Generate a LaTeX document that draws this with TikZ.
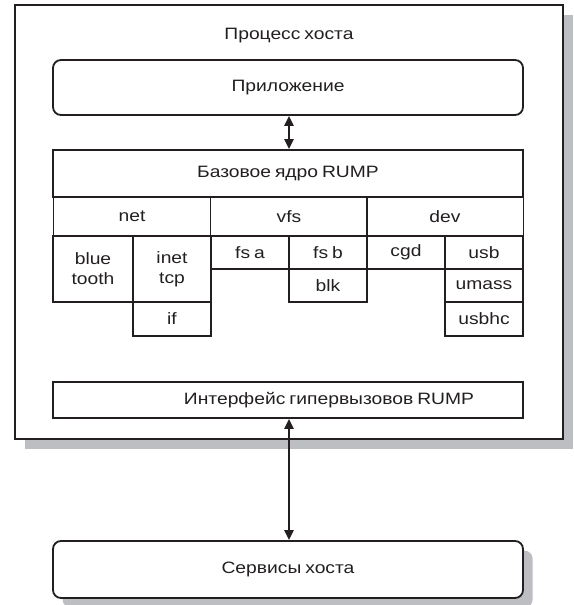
\documentclass[tikz,border=0pt]{standalone}
\usepackage{fontspec}
\setmainfont{Liberation Sans}[FakeStretch=1.17,WordSpace=0.75]
\usepackage{xcolor}
\usetikzlibrary{arrows.meta,shadows}
\definecolor{ink}{RGB}{35,31,32}
\definecolor{shade}{RGB}{189,190,194}

\begin{document}
\begin{tikzpicture}[
  x=0.025cm, y=-0.025cm,
  font=\fontsize{11.7}{14.2}\selectfont,
  cell/.style={draw=ink, line width=1.3pt, text=ink, inner sep=0pt, align=center},
  rcell/.style={cell, rounded corners=0.2cm},
  shade/.style={drop shadow={shadow xshift=0.24cm, shadow yshift=-0.24cm, fill=shade, opacity=1}},
  txt/.style={text=ink, inner sep=0pt},
  link/.style={draw=ink, line width=1.2pt, {Triangle[length=7pt,width=6.5pt]}-{Triangle[length=7pt,width=6.5pt]}},
]
\def\u{0.025} % 1 px
\useasboundingbox (0,0) rectangle (573,605);
% host process frame
\node[cell, line width=1.5pt, fill=white, shade, minimum width=548*\u cm, minimum height=434*\u cm] (host) at (289,222) {};
\node[txt] (hostlabel) at (289,36) {Процесс хоста};
% application and rump core
\node[rcell, minimum width=470*\u cm, minimum height=55*\u cm] (app) at (288,87.5) {Приложение};
\node[cell, minimum width=470*\u cm, minimum height=47*\u cm] (core) at (288,173.5) {Базовое ядро RUMP};
% factions
\foreach \n/\x/\t in {net/132/net, vfs/289/vfs, dev/445/dev}{
  \node[cell, minimum width=157*\u cm, minimum height=39*\u cm] (\n) at (\x,216.5) {\t};
}
% drivers
\node[cell, minimum width=80*\u cm, minimum height=66*\u cm] (bt) at (93,269) {blue\\tooth};
\node[cell, minimum width=78*\u cm, minimum height=66*\u cm] (inet) at (172,269) {inet\\tcp};
\node[cell, minimum width=78*\u cm, minimum height=34*\u cm] (if) at (172,319) {if};
\foreach \n/\x/\y/\t in {fsa/250/252.5/fs a, fsb/328/252.5/fs b, blk/328/285.5/blk,
  cgd/406/252.5/cgd, usb/484/252.5/usb, umass/484/285.5/umass}{
  \node[cell, minimum width=78*\u cm, minimum height=33*\u cm] (\n) at (\x,\y) {\t};
}
\node[cell, minimum width=78*\u cm, minimum height=34*\u cm] (usbhc) at (484,319) {usbhc};
% hypercall interface
\node[cell, minimum width=470*\u cm, minimum height=36*\u cm] (hyper) at (288,400) {};
\node[txt] (hyperlabel) at (329,400) {Интерфейс гипервызовов RUMP};
% host services
\node[rcell, fill=white, shade, minimum width=470*\u cm, minimum height=57*\u cm] (srv) at (288,569.5) {Сервисы хоста};
% connectors
\draw[link] (app.south -| 289,0) -- (core.north -| 289,0);
\draw[link] (hyper.south -| 289,0) -- (srv.north -| 289,0);
\end{tikzpicture}
\end{document}
